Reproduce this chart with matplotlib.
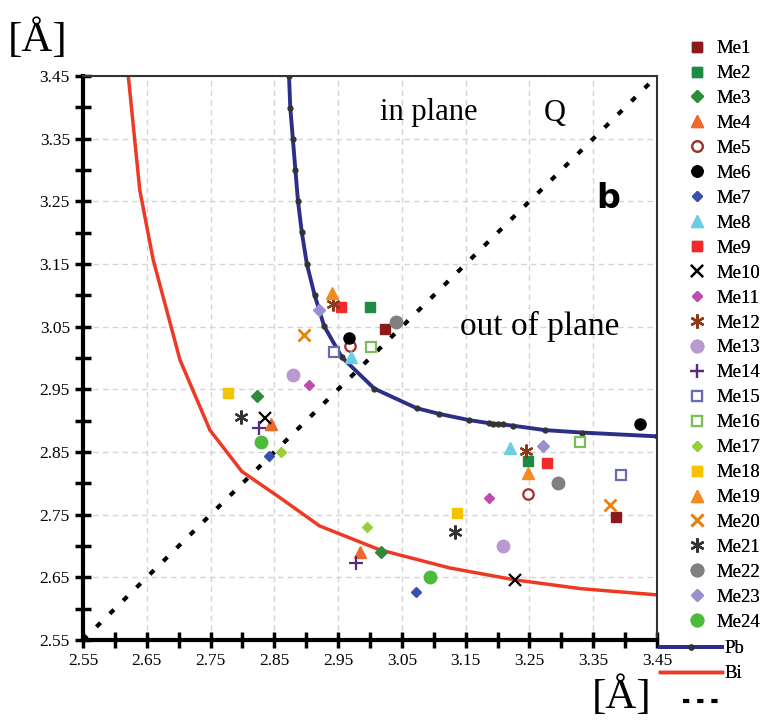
import matplotlib
matplotlib.use("Agg")
import matplotlib.pyplot as plt
from matplotlib.lines import Line2D
import numpy as np

plt.rcParams['font.family'] = ['Liberation Serif', 'DejaVu Serif']

# ---- data ----
names = [f"Me{i}" for i in range(1, 25)]
x1 = [3.024, 3.000, 2.823, 2.844, 2.968, 2.967, 2.841, 2.970, 2.955, 2.836, 2.905, 2.942,
      2.880, 2.826, 2.944, 3.001, 2.861, 2.778, 2.941, 2.896, 2.798, 3.040, 2.920, 2.829]
y1 = [3.046, 3.082, 2.940, 2.895, 3.019, 3.032, 2.843, 3.001, 3.081, 2.904, 2.957, 3.086,
      2.973, 2.889, 3.010, 3.018, 2.850, 2.944, 3.103, 3.037, 2.906, 3.057, 3.077, 2.866]
x2 = [3.386, 3.248, 3.017, 2.985, 3.247, 3.424, 3.072, 3.220, 3.278, 3.227, 3.186, 3.244,
      3.208, 2.978, 3.393, 3.329, 2.995, 3.136, 3.247, 3.376, 3.133, 3.295, 3.272, 3.094]
y2 = [2.746, 2.836, 2.690, 2.690, 2.783, 2.894, 2.626, 2.856, 2.832, 2.645, 2.776, 2.851,
      2.700, 2.673, 2.814, 2.866, 2.730, 2.753, 2.817, 2.766, 2.722, 2.801, 2.859, 2.650]

pb_x = [2.873, 2.875, 2.879, 2.883, 2.887, 2.893, 2.901, 2.913, 2.928, 2.956, 3.007, 3.073,
        3.108, 3.155, 3.187, 3.193, 3.201, 3.208, 3.224, 3.274, 3.333, 3.450]
pb_y = [3.450, 3.399, 3.350, 3.300, 3.251, 3.201, 3.150, 3.101, 3.051, 3.001, 2.951, 2.920,
        2.911, 2.901, 2.896, 2.895, 2.895, 2.894, 2.892, 2.885, 2.881, 2.875]

bi_x = [2.621, 2.639, 2.660, 2.702, 2.749, 2.799, 2.859, 2.921, 3.015, 3.125, 3.227, 3.330, 3.450]
bi_y = [3.450, 3.268, 3.157, 2.997, 2.885, 2.819, 2.777, 2.732, 2.694, 2.665, 2.646, 2.632, 2.622]

diag = [2.55, 3.45]

ticks = [2.55, 2.65, 2.75, 2.85, 2.95, 3.05, 3.15, 3.25, 3.35, 3.45]
tick_labels = ["2.55", "2.65", "2.75", "2.85", "2.95", "3.05", "3.15", "3.25", "3.35", "3.45"]

# ---- styles ----
ast6 = (6, 2, 0)
styles = [
    dict(marker='s', color='#8B1A1A', ms=7),
    dict(marker='s', color='#1E8B45', ms=7),
    dict(marker='D', color='#2E8B3A', ms=6),
    dict(marker='^', color='#EE6A2A', ms=8),
    dict(marker='o', color='#A0302A', ms=7.5, mfc='white', mew=1.6),
    dict(marker='o', color='black', ms=8),
    dict(marker='D', color='#3A4FB0', ms=5.5),
    dict(marker='^', color='#6CCFE0', ms=8),
    dict(marker='s', color='#EE2A2A', ms=7),
    dict(marker='x', color='black', ms=8, mew=1.6),
    dict(marker='D', color='#C04AB0', ms=5.5),
    dict(marker=ast6, color='#8B3A1A', ms=10, mew=1.6),
    dict(marker='o', color='#B89AD0', ms=9),
    dict(marker='+', color='#5A2A80', ms=10, mew=1.6),
    dict(marker='s', color='#6A6AB0', ms=7, mfc='white', mew=1.6),
    dict(marker='s', color='#7ABD5A', ms=7, mfc='white', mew=1.6),
    dict(marker='D', color='#9ACD3A', ms=5.5),
    dict(marker='s', color='#F5C400', ms=7),
    dict(marker='^', color='#F08C20', ms=8),
    dict(marker='x', color='#E8820A', ms=8, mew=2.0),
    dict(marker=ast6, color='#333333', ms=10, mew=1.6),
    dict(marker='o', color='#808080', ms=9),
    dict(marker='D', color='#9A90D0', ms=6),
    dict(marker='o', color='#4CBB3C', ms=9),
]

diag_style = (0, (1.4, 3.1))

fig = plt.figure(figsize=(7.78, 7.2), dpi=100)
ax = fig.add_axes([0.1067, 0.1111, 0.7378, 0.7833])

ax.set_xlim(2.55, 3.45)
ax.set_ylim(2.55, 3.45)

ax.set_xticks(ticks)
ax.set_yticks(ticks)
ax.set_xticklabels(tick_labels)
ax.set_yticklabels(tick_labels)
minor = [t + 0.05 for t in ticks[:-1]]
ax.set_xticks(minor, minor=True)
ax.set_yticks(minor, minor=True)
ax.tick_params(which='both', direction='inout', length=11, width=2.5, color='black',
               labelsize=12.5, pad=4)
ax.grid(True, which='major', color='#d4d4d4', linestyle=(0, (4, 3)), linewidth=1)
ax.set_axisbelow(True)

for s in ['left', 'bottom']:
    ax.spines[s].set_linewidth(3)
for s in ['top', 'right']:
    ax.spines[s].set_linewidth(1.5)
    ax.spines[s].set_color('#333333')

ax.plot(diag, diag, color='black', lw=3, linestyle=diag_style, zorder=2)
pb_line, = ax.plot(pb_x, pb_y, color='#2B2F8A', lw=2.8, marker='o', ms=3.5,
                   mfc='#333333', mec='#333333', zorder=2)
bi_line, = ax.plot(bi_x, bi_y, color='#EE3A24', lw=2.5, zorder=2)

handles = []
for i, st in enumerate(styles):
    st = dict(st)
    col = st.pop('color')
    mfc = st.pop('mfc', col)
    h, = ax.plot([x1[i], x2[i]], [y1[i], y2[i]], linestyle='none', color=col,
                 mfc=mfc, mec=col, zorder=4, **st)
    handles.append(h)

ax.text(3.092, 3.392, "in plane", fontsize=22, ha='center', va='center')
ax.text(3.290, 3.390, "Q", fontsize=22, ha='center', va='center')
ax.text(3.266, 3.050, "out of plane", fontsize=24, ha='center', va='center')
ax.text(3.374, 3.254, "b", fontsize=24, ha='center', va='center', fontweight='bold',
        family='DejaVu Sans')

fig.text(38 / 778, 1 - 40 / 720, "[Å]", fontsize=31, ha='center', va='center')
fig.text(622 / 778, 1 - 697 / 720, "[Å]", fontsize=31, ha='center', va='center')

leg1 = fig.legend(handles, names, loc='upper left', bbox_to_anchor=(688 / 778, 1 - 40 / 720),
                  frameon=False, fontsize=13.5, handlelength=1.0, handletextpad=0.5,
                  labelspacing=0.417, borderaxespad=0, borderpad=0)
leg2 = fig.legend([pb_line, bi_line], ["Pb", "Bi"], loc='upper left',
                  bbox_to_anchor=(660 / 778, 1 - 640 / 720), frameon=False, fontsize=13.5,
                  handlelength=3.3, handletextpad=0.15, labelspacing=0.42,
                  borderaxespad=0, borderpad=0)
dash_handle = Line2D([], [], color='black', lw=3, linestyle=(0, (1.5, 1.9)))
leg3 = fig.legend([dash_handle], [" "], loc='upper left',
                  bbox_to_anchor=(683 / 778, 1 - 694 / 720), frameon=False, fontsize=13.5,
                  handlelength=2.1, handletextpad=0.1, borderaxespad=0, borderpad=0)
fig.add_artist(leg1)
fig.add_artist(leg2)

fig.savefig("out.png", dpi=100)
